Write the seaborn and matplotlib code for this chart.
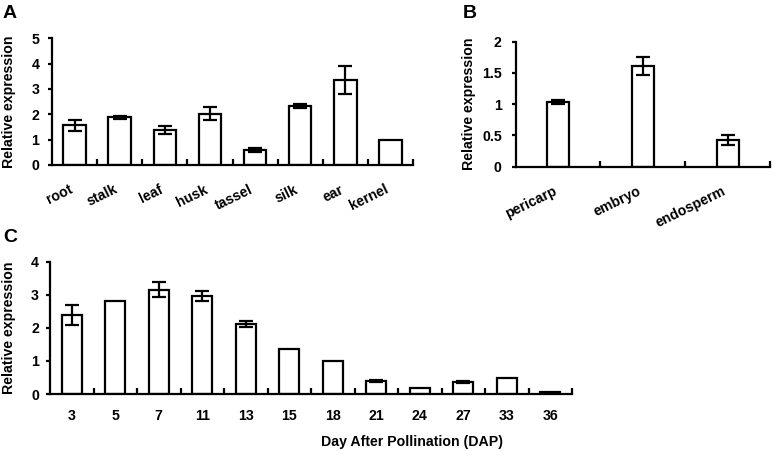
import matplotlib
matplotlib.use("Agg")
import matplotlib.pyplot as plt
import seaborn as sns
import numpy as np
import pandas as pd

sns.set_theme(style="white")
plt.rcParams['font.family'] = ['Liberation Sans', 'DejaVu Sans']
plt.rcParams['font.weight'] = 'bold'
plt.rcParams['text.color'] = 'black'
plt.rcParams['xtick.color'] = 'black'
plt.rcParams['ytick.color'] = 'black'
plt.rcParams['axes.labelcolor'] = 'black'

# Panel A: tissues
tissues = ["root", "stalk", "leaf", "husk", "tassel", "silk", "ear", "kernel"]
tissue_vals = [1.56, 1.88, 1.37, 2.02, 0.60, 2.33, 3.36, 1.00]
tissue_err = [0.20, 0.07, 0.15, 0.26, 0.07, 0.08, 0.55, 0.0]

# Panel B: kernel parts
parts = ["pericarp", "embryo", "endosperm"]
part_vals = [1.04, 1.61, 0.42]
part_err = [0.03, 0.14, 0.08]

# Panel C: days after pollination
days = ["3", "5", "7", "11", "13", "15", "18", "21", "24", "27", "33", "36"]
day_vals = [2.40, 2.80, 3.15, 2.95, 2.12, 1.35, 1.00, 0.38, 0.18, 0.35, 0.47, 0.06]
day_err = [0.30, 0.0, 0.23, 0.15, 0.09, 0.0, 0.0, 0.03, 0.0, 0.03, 0.0, 0.0]

W, H = 774, 451
fig = plt.figure(figsize=(W / 100, H / 100), dpi=100)

def box(l, r, b, t):
    return [l / W, 1 - b / H, (r - l) / W, (b - t) / H]

axA = fig.add_axes(box(52, 413, 165, 38.3))
axB = fig.add_axes(box(515.7, 770, 166.7, 41.7))
axC = fig.add_axes(box(50, 572, 394, 261.7))

LW = 1.6
FS = 10.2

def draw(ax, cats, vals, errs, width, ylim, yticks, yticklabels, rot, ypad, ylab_x, lab_shift=0.0):
    df = pd.DataFrame({"cat": cats, "val": vals})
    sns.barplot(data=df, x="cat", y="val", ax=ax, color="white", saturation=1,
                edgecolor="black", linewidth=LW, width=width, errorbar=None)
    x = np.arange(len(cats))
    e = np.array(errs)
    mask = e > 0
    ax.errorbar(x[mask], np.array(vals)[mask], yerr=e[mask], fmt="none",
                ecolor="black", elinewidth=LW, capsize=5.2, capthick=LW)
    ax.set_xlim(-0.5, len(cats) - 0.5)
    ax.set_ylim(*ylim)
    ax.set_yticks(yticks)
    ax.set_yticklabels(yticklabels, fontsize=FS, fontweight="bold")
    # invisible major ticks carry the labels (slightly left of bar centre for rotated labels)
    ax.set_xticks(x - lab_shift)
    ax.set_xticks(np.arange(len(cats)) + 0.5, minor=True)
    ax.tick_params(axis="x", which="minor", direction="in", length=4, width=LW,
                   color="black", bottom=True)
    ax.tick_params(axis="y", which="major", direction="out", length=3, width=LW,
                   color="black", left=True, pad=ypad)
    if rot:
        ax.tick_params(axis="x", which="major", length=0, pad=12.5)
        ax.set_xticklabels(cats, fontsize=FS, fontweight="bold", rotation=26,
                           ha="right", va="top", rotation_mode="anchor")
    else:
        ax.tick_params(axis="x", which="major", length=0, pad=11)
        ax.set_xticklabels(cats, fontsize=FS, fontweight="bold")
    for s in ["top", "right"]:
        ax.spines[s].set_visible(False)
    for s in ["left", "bottom"]:
        ax.spines[s].set_color("black")
        ax.spines[s].set_linewidth(LW)
    ax.set_xlabel("")
    ax.set_ylabel("Relative expression", fontsize=FS, fontweight="bold")
    ax.yaxis.set_label_coords(ylab_x, 0.5)
    ax.patch.set_alpha(0)

draw(axA, tissues, tissue_vals, tissue_err, 0.5, (0, 5), [0, 1, 2, 3, 4, 5],
     ["0", "1", "2", "3", "4", "5"], True, 6, (16 - 52) / 361, lab_shift=0.13)
draw(axB, parts, part_vals, part_err, 0.26, (0, 2), [0, 0.5, 1, 1.5, 2],
     ["0", "0.5", "1", "1.5", "2"], True, 7, (476 - 515.7) / 254.3, lab_shift=0.065)
draw(axC, days, day_vals, day_err, 0.47, (0, 4), [0, 1, 2, 3, 4],
     ["0", "1", "2", "3", "4"], False, 5, (16 - 50) / 522)
axC.set_xlabel("Day After Pollination (DAP)", fontsize=FS, fontweight="bold")
axC.xaxis.set_label_coords((412 - 50) / 522, -0.31)

fig.text(3 / W, 1 - 14 / H, "A", fontsize=14, fontweight="bold", va="center", ha="left")
fig.text(463 / W, 1 - 13 / H, "B", fontsize=14, fontweight="bold", va="center", ha="left")
fig.text(3 / W, 1 - 237 / H, "C", fontsize=14, fontweight="bold", va="center", ha="left")

fig.savefig("out.png", dpi=100, facecolor="white")
